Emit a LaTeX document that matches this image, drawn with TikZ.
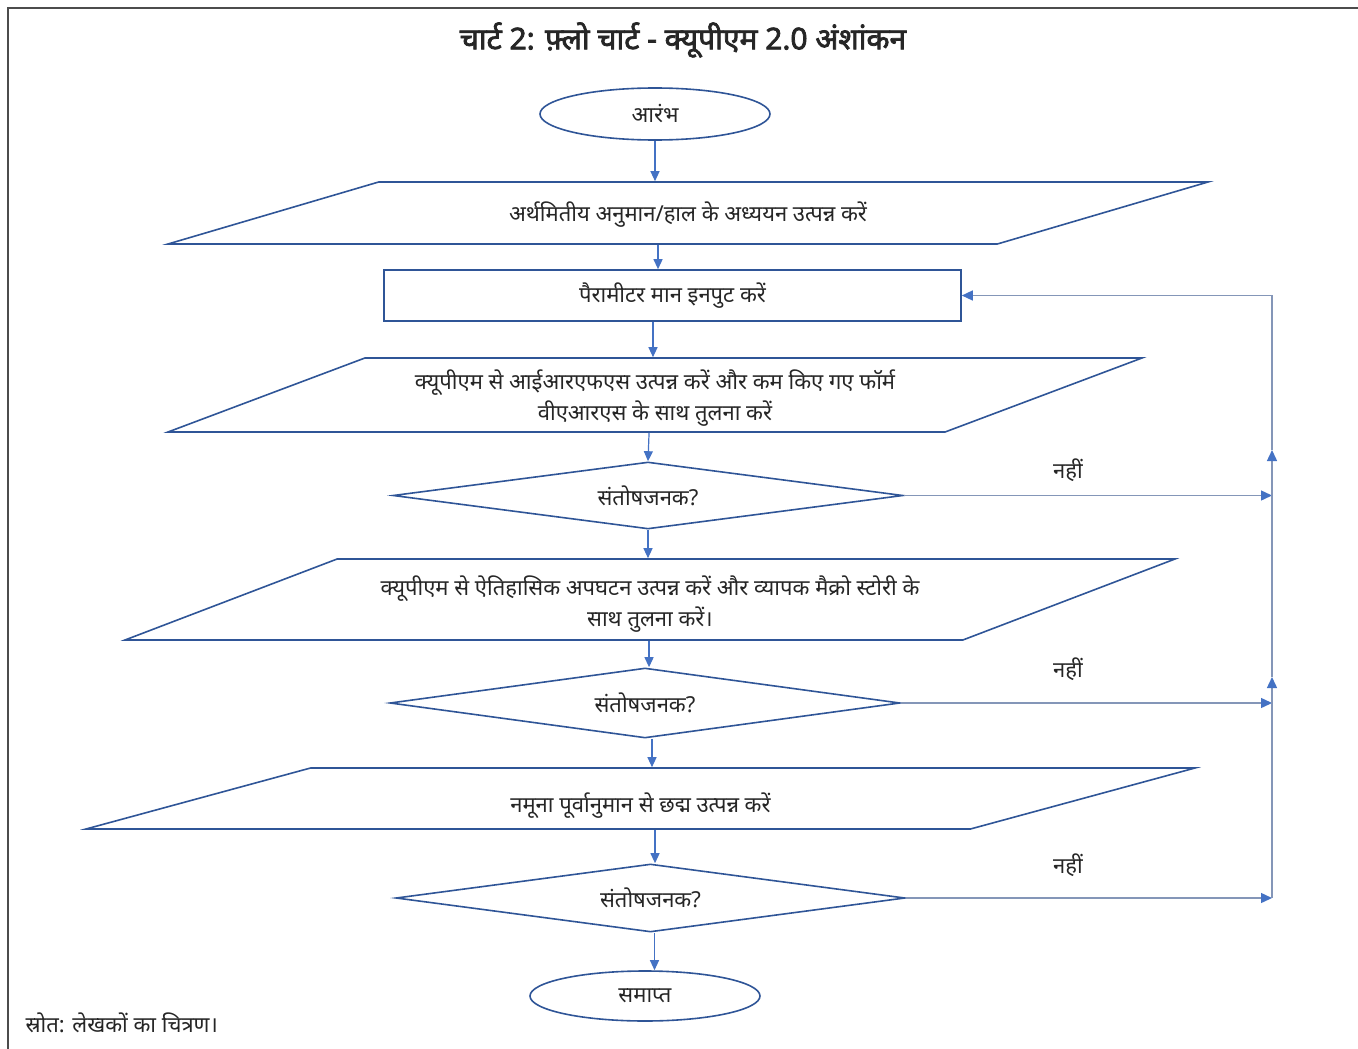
\documentclass[tikz,border=0pt]{standalone}
\usepackage{fontspec}
\setmainfont[Script=Devanagari]{Noto Sans}
\newfontfamily\titlefont[Script=Devanagari, FakeBold=2.5]{Noto Sans}
\usetikzlibrary{shapes,arrows,arrows.meta,positioning}

\definecolor{edge}{HTML}{2F5597}
\definecolor{flow}{HTML}{4472C4}
\definecolor{rail}{HTML}{8496B8}
\definecolor{ink}{HTML}{262626}

\tikzstyle{term} = [
	draw=edge, line width=1.6pt, ellipse,
	minimum width=230pt,
	minimum height=52pt,
	inner sep=0pt
]
\tikzstyle{io} = [
	draw=edge, line width=1.6pt, trapezium,
	trapezium stretches body,
	inner sep=0pt, align=center
]
\tikzstyle{block} = [
	draw=edge, line width=1.6pt,
	minimum width=577pt,
	minimum height=51pt
]
\tikzstyle{decision} = [
	draw=edge, line width=1.6pt, diamond,
	shape aspect=7.6, inner sep=0pt,
	minimum width=510pt,
	minimum height=67pt
]
\tikzstyle{arrow} = [draw=flow, line width=1.2pt, -{Triangle[length=10pt,width=9pt]}]
\tikzstyle{loop} = [draw=rail, line width=1.4pt]
\tikzstyle{looptip} = [-{Triangle[length=11pt,width=10pt,color=flow]}]
\tikzstyle{lbl} = [text=ink]

\begin{document}
\begin{tikzpicture}[x=1pt, y=-1pt, every node/.style={text=ink, font=\fontsize{22}{31}\selectfont}]
	\useasboundingbox (0,0) rectangle (1358,1049);
	\draw[black!70, line width=1.3pt] (8,1049) -- (8,8) -- (1358,8);

	\node[name=title, font=\fontsize{30}{34}\titlefont] at (683,40) {चार्ट 2: फ़्लो चार्ट - क्यूपीएम 2.0 अंशांकन};

	\node[term, name=start] at (655,114) {आरंभ};
	\node[io, name=est, trapezium left angle=16.4, trapezium right angle=163.6,
		minimum width=1040pt, text height=39pt, text depth=23pt] at (688,213) {अर्थमितीय अनुमान/हाल के अध्ययन उत्पन्न करें};
	\node[block, name=params] at (672.5,295.5) {पैरामीटर मान इनपुट करें};
	\node[io, name=irf, trapezium left angle=20.6, trapezium right angle=159.4,
		minimum width=974pt, text height=62pt, text depth=12pt] at (655,395) {क्यूपीएम से आईआरएफएस उत्पन्न करें और कम किए गए फॉर्म\\वीएआरएस के साथ तुलना करें};
	\node[decision, name=ok1] at (648,495.5) {संतोषजनक?};
	\node[io, name=hist, trapezium left angle=20.9, trapezium right angle=159.1,
		minimum width=1050pt, text height=67pt, text depth=14pt] at (650,599.5) {क्यूपीएम से ऐतिहासिक अपघटन उत्पन्न करें और व्यापक मैक्रो स्टोरी के\\साथ तुलना करें।};
	\node[decision, name=ok2, minimum height=70pt] at (645,703) {संतोषजनक?};
	\node[io, name=fcst, trapezium left angle=15.2, trapezium right angle=164.8,
		minimum width=1109pt, text height=44pt, text depth=17pt] at (640.5,798.5) {नमूना पूर्वानुमान से छद्म उत्पन्न करें};
	\node[decision, name=ok3, minimum width=509pt, minimum height=68pt] at (650.5,898) {संतोषजनक?};
	\node[term, name=stop, minimum height=50pt] at (645,996) {समाप्त};

	\node[anchor=west, name=source] at (22,1023) {स्रोत: लेखकों का चित्रण।};

	\draw[arrow] (start.south) -- (start.south |- est.north);
	\draw[arrow] ([xshift=-30pt]est.south) -- ([xshift=-30pt]est.south |- params.north);
	\draw[arrow] ([xshift=-19.5pt]params.south) -- ([xshift=-19.5pt]params.south |- irf.north);
	\draw[arrow] ([xshift=-6pt]irf.south) -- (ok1.north);
	\draw[arrow] (ok1.south) -- (ok1.south |- hist.north);
	\draw[arrow] ([xshift=-1pt]hist.south) -- ([xshift=-1pt]hist.south |- ok2.north);
	\draw[arrow] ([xshift=7pt]ok2.south) -- ([xshift=7pt]ok2.south |- fcst.north);
	\draw[arrow] ([xshift=14.5pt]fcst.south) -- ([xshift=14.5pt]fcst.south |- ok3.north);
	\draw[arrow] ([xshift=4pt]ok3.south) -- ([xshift=4pt]ok3.south |- stop.north);

	\coordinate (up1) at (1272,450);
	\coordinate (up2) at (1272,677);
	\draw[loop, looptip] (ok1.east) -- (ok1.east -| up1);
	\draw[loop, looptip] (ok2.east) -- (ok2.east -| up2);
	\draw[loop, looptip] (ok3.east) -- (ok3.east -| up2);
	\draw[loop, looptip] (ok3.east -| up2) -- (up2);
	\draw[loop, looptip] (up2) -- (up1);
	\draw[loop, looptip] (up1) |- (params.east);

	\node[lbl, name=no1] at (1068,470) {नहीं};
	\node[lbl, name=no2] at (1068,669) {नहीं};
	\node[lbl, name=no3] at (1068,865) {नहीं};
\end{tikzpicture}
\end{document}
